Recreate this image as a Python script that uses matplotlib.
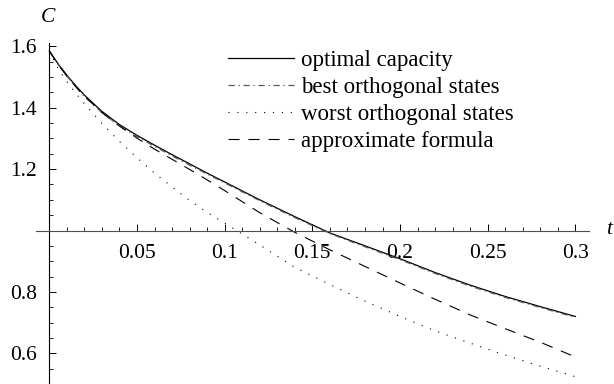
import matplotlib
matplotlib.use("Agg")
import matplotlib.pyplot as plt
import numpy as np
from matplotlib.ticker import MultipleLocator, FixedLocator

plt.rcParams["font.family"] = ["Liberation Serif", "DejaVu Serif"]

# values
t = [0, 0.005, 0.01, 0.015, 0.02, 0.03, 0.04, 0.05, 0.06, 0.07, 0.08, 0.09, 0.10,
     0.12, 0.14, 0.16, 0.18, 0.20, 0.22, 0.24, 0.26, 0.28, 0.30]
optimal = [1.585, 1.543, 1.506, 1.472, 1.441, 1.388, 1.345, 1.310, 1.278, 1.247, 1.217, 1.187, 1.158,
           1.100, 1.045, 0.992, 0.950, 0.908, 0.863, 0.822, 0.785, 0.752, 0.720]
best = [1.585, 1.541, 1.503, 1.469, 1.437, 1.384, 1.341, 1.306, 1.274, 1.243, 1.213, 1.184, 1.155,
        1.097, 1.042, 0.990, 0.947, 0.905, 0.860, 0.819, 0.782, 0.749, 0.717]
worst = [1.585, 1.528, 1.485, 1.448, 1.413, 1.349, 1.290, 1.237, 1.187, 1.142, 1.098, 1.059, 1.024,
         0.953, 0.880, 0.824, 0.770, 0.720, 0.673, 0.633, 0.594, 0.558, 0.524]
approx = [1.585, 1.541, 1.503, 1.469, 1.438, 1.384, 1.340, 1.301, 1.265, 1.232, 1.199, 1.165, 1.130,
          1.058, 0.994, 0.937, 0.883, 0.829, 0.776, 0.725, 0.680, 0.636, 0.588]
labels = ["optimal capacity", "best orthogonal states", "worst orthogonal states", "approximate formula"]

fig = plt.figure(figsize=(6.14, 3.84), dpi=100)
ax = fig.add_axes([0.0583, 0.0, 0.9017, 0.889])

ax.plot(t, optimal, color="black", lw=0.9, label=labels[0])
ax.plot(t, best, color="0.35", lw=0.9, linestyle=(0, (5, 3, 1, 3)), label=labels[1])
ax.plot(t, worst, color="black", lw=0.8, linestyle=(0, (1, 7)), label=labels[2])
ax.plot(t, approx, color="black", lw=0.8, linestyle=(0, (10, 8)), label=labels[3])

ax.set_xlim(-0.0077, 0.308)
ax.set_ylim(0.5, 1.612)

ax.spines["left"].set_position(("data", 0))
ax.spines["bottom"].set_position(("data", 1.0))
ax.spines["top"].set_visible(False)
ax.spines["right"].set_visible(False)
ax.spines["left"].set_linewidth(0.8)
ax.spines["bottom"].set_linewidth(0.8)
ax.spines["bottom"].set_color("0.3")

ax.xaxis.set_major_locator(FixedLocator([0.05, 0.1, 0.15, 0.2, 0.25, 0.3]))
ax.xaxis.set_minor_locator(MultipleLocator(0.01))
ax.set_xticklabels(["0.05", "0.1", "0.15", "0.2", "0.25", "0.3"])
ax.yaxis.set_major_locator(FixedLocator([0.6, 0.8, 1.2, 1.4, 1.6]))
ax.yaxis.set_minor_locator(MultipleLocator(0.05))
ax.set_yticklabels(["0.6", "0.8", "1.2", "1.4", "1.6"])

ax.tick_params(which="major", direction="in", length=5, width=0.7, labelsize=15.5, pad=9)
ax.tick_params(axis="x", which="major", pad=10)
ax.tick_params(which="minor", direction="in", length=3, width=0.6)

fig.text(48 / 614, 1 - 17 / 384, "C", fontsize=15.5, style="italic", ha="center", va="center")
fig.text(609 / 614, 1 - 230 / 384, "t", fontsize=15.5, style="italic", ha="center", va="center")

ax.legend(loc="upper left", bbox_to_anchor=(0.33, 1.004), frameon=False, fontsize=16.5,
          handlelength=2.88, handletextpad=0.3, labelspacing=0.26, borderaxespad=0)

fig.savefig("out.png", dpi=100)
